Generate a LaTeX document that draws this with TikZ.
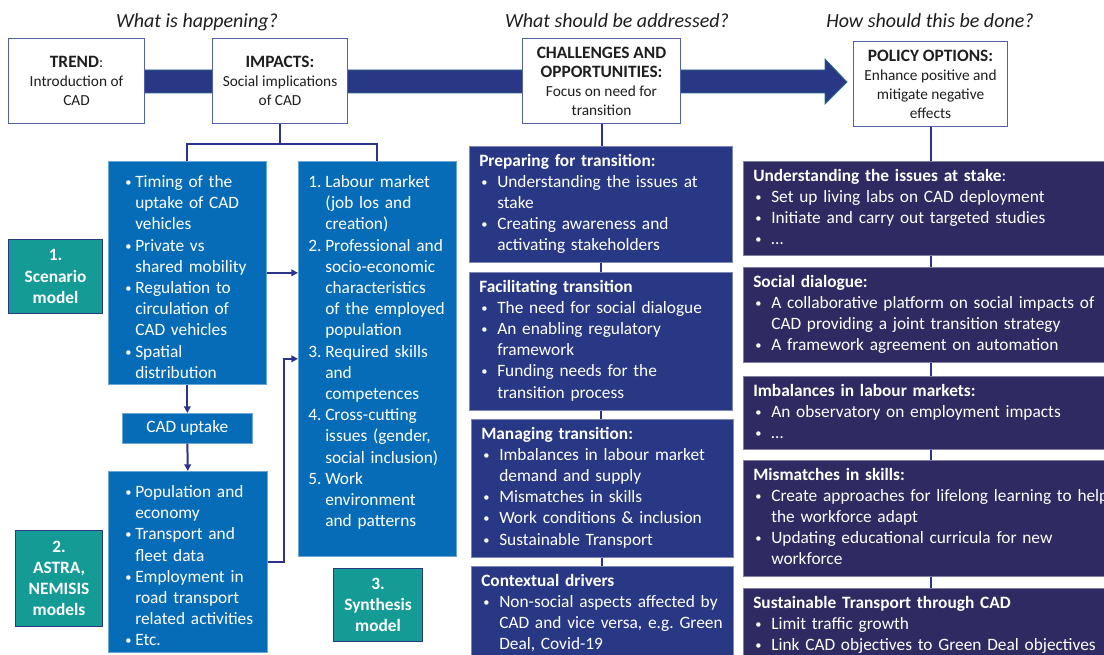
\documentclass[tikz,border=0pt]{standalone}
\usepackage{fontspec}
\usepackage{graphicx}
\setmainfont{Carlito}
\usetikzlibrary{arrows.meta,calc}
\definecolor{navy}{RGB}{41,56,132}
\definecolor{deep}{RGB}{47,42,98}
\definecolor{cblue}{RGB}{6,108,183}
\definecolor{teal2}{RGB}{20,155,150}
\definecolor{hdrline}{RGB}{85,95,170}
\definecolor{conncol}{RGB}{45,50,140}
\definecolor{shaftedge}{RGB}{40,110,140}
\definecolor{txt}{RGB}{30,30,30}
\frenchspacing
\newcommand\bodyfont{\fontsize{13}{15.9}\selectfont}
\newcommand\nl{\hfil\break}
\newcommand\sbul{\raisebox{0.12ex}{\scalebox{0.72}{\textbullet}}}
\newcommand\itm[4]{\par\hangindent=#2\hangafter=1\noindent\makebox[#2][l]{\hspace*{#1}#3}\strut\ignorespaces#4}
\newcommand\bA[1]{\itm{5.25pt}{12.75pt}{\sbul}{#1}}
\newcommand\bM[1]{\itm{1.5pt}{13.5pt}{\sbul}{#1}}
\newcommand\nB[2]{\itm{0pt}{12.75pt}{#1}{#2}}
\newcommand\hbf[1]{{\fontsize{13}{14.2}\selectfont\bfseries #1}}
\newcommand\boxat[7]{\node[#2, anchor=north west, minimum width={(#5-#3)*0.75pt}, minimum height={(#6-#4)*0.75pt}] (#1) at (#3,#4) {#7};}
\newcommand\panel[8]{%
  \node[#2, anchor=north west, inner sep=0pt, minimum width={(#5-#3)*0.75pt}, minimum height={(#6-#4)*0.75pt}] (#1) at (#3,#4) {};
  \node[ptext, anchor=north west, text width={(#5-#3)*0.75pt}] (#1t) at ([shift={(#7,5)}]#1.north west) {#8\par};}
\begin{document}
\begin{tikzpicture}[x=0.75pt,y=-0.75pt,
  hdr/.style={draw=hdrline, line width=0.8pt, fill=white, align=center, inner sep=2pt, text=txt, font=\fontsize{11.5}{14.2}\selectfont},
  ital/.style={font=\itshape\fontsize{15}{18}\selectfont, text=txt, inner sep=0pt},
  blu/.style={fill=cblue, draw=cblue!60!white, line width=0.5pt},
  mid/.style={fill=navy, draw=navy!60!white, line width=0.5pt},
  rgt/.style={fill=deep, draw=deep!60!white, line width=0.5pt},
  model/.style={fill=teal2, draw=navy, line width=0.8pt, text=white, align=center, inner sep=1pt, font=\bfseries\fontsize{13}{15.9}\selectfont},
  cad/.style={fill=cblue, draw=cblue!60!white, line width=0.5pt, text=white, font=\bodyfont},
  ptext/.style={text=white, align=left, font=\bodyfont, inner sep=0pt},
  conn/.style={draw=conncol, line width=1.5pt},
  arr/.style={conn, -{Triangle[length=5pt,width=5pt]}}]
\useasboundingbox (0,0) rectangle (1104,655);
\clip (0,0) rectangle (1104,655);
\fill[white] (0,0) rectangle (1104,655);

% question labels
\node[ital, anchor=base] (q1) at (197,28) {What is happening?};
\node[ital, anchor=base] (q2) at (617,28) {What should be addressed?};
\node[ital, anchor=base] (q3) at (930,28) {How should this be done?};

% big arrow
\filldraw[fill=navy, draw=shaftedge, line width=0.6pt] (140,70) -- (825,70) -- (825,59) -- (847,82) -- (825,104) -- (825,93) -- (140,93) -- cycle;

% header boxes
\boxat{trend}{hdr}{8}{38}{144}{123}{\hbf{TREND}:\\Introduction of\\CAD}
\boxat{impacts}{hdr}{212}{38}{347}{123}{\hbf{IMPACTS:}\\Social implications\\of CAD}
\boxat{challenges}{hdr}{522}{38}{680}{123}{\hbf{CHALLENGES AND}\\\hbf{OPPORTUNITIES:}\\Focus on need for\\transition}
\boxat{policy}{hdr}{853}{41}{1007}{126}{\hbf{POLICY OPTIONS:}\\Enhance positive and\\mitigate negative\\effects}

% left column
\panel{A}{blu}{108}{161}{266}{384}{10}{%
\bA{Timing of the\nl uptake of CAD\nl vehicles}
\bA{Private vs\nl shared mobility}
\bA{Regulation to\nl circulation of\nl CAD vehicles}
\bA{Spatial\nl distribution}}
\panel{B}{blu}{298}{161}{456}{556}{10}{%
\nB{1.}{Labour market\nl (job los and\nl creation)}
\nB{2.}{Professional and\nl socio-economic\nl characteristics\nl of the employed\nl population}
\nB{3.}{Required skills\nl and\nl competences}
\nB{4.}{Cross-cutting\nl issues (gender,\nl social inclusion)}
\nB{5.}{Work\nl environment\nl and patterns}}
\boxat{cadup}{cad}{122}{413}{252}{443}{CAD uptake}
\panel{C}{blu}{108}{471}{267}{652}{10}{%
\bA{Population and\nl economy}
\bA{Transport and\nl fleet data}
\bA{Employment in\nl road transport\nl related activities}
\bA{Etc.}}
\boxat{m1}{model}{8}{239}{102}{313}{1.\\Scenario\\model}
\boxat{m2}{model}{15}{530}{102}{626}{2.\\ASTRA,\\NEMISIS\\models}
\boxat{m3}{model}{333}{568}{422}{641}{3.\\Synthesis\\model}

% middle column
\panel{p1}{mid}{469}{146}{732}{262}{10}{%
\strut\textbf{Preparing for transition:}
\bM{Understanding the issues at\nl stake}
\bM{Creating awareness and\nl activating stakeholders}}
\panel{p2}{mid}{469}{272}{732}{410}{10}{%
\strut\textbf{Facilitating transition}
\bM{The need for social dialogue}
\bM{An enabling regulatory\nl framework}
\bM{Funding needs for the\nl transition process}}
\panel{p3}{mid}{471}{419}{733}{557}{10}{%
\strut\textbf{Managing transition:}
\bM{Imbalances in labour market\nl demand and supply}
\bM{Mismatches in skills}
\bM{Work conditions \& inclusion}
\bM{Sustainable Transport}}
\panel{p4}{mid}{471}{566}{733}{662}{10}{%
\strut\textbf{Contextual drivers}
\bM{Non-social aspects affected by\nl CAD and vice versa, e.g. Green\nl Deal, Covid-19}}

% right column
\panel{r1}{rgt}{743}{161}{1118}{255}{10}{%
\strut\textbf{Understanding the issues at stake}:
\bM{Set up living labs on CAD deployment}
\bM{Initiate and carry out targeted studies}
\bM{\ldots}}
\panel{r2}{rgt}{743}{267}{1118}{362}{10}{%
\strut\textbf{Social dialogue:}
\bM{A collaborative platform on social impacts of\nl CAD providing a joint transition strategy}
\bM{A framework agreement on automation}}
\panel{r3}{rgt}{743}{376}{1118}{449}{10}{%
\strut\textbf{Imbalances in labour markets:}
\bM{An observatory on employment impacts}
\bM{\ldots}}
\panel{r4}{rgt}{743}{460}{1118}{576}{10}{%
\strut\textbf{Mismatches in skills:}
\bM{Create approaches for lifelong learning to help\nl the workforce adapt}
\bM{Updating educational curricula for new\nl workforce}}
\panel{r5}{rgt}{743}{588}{1118}{662}{10}{%
\strut\textbf{Sustainable Transport through CAD}
\bM{Limit traffic growth}
\bM{Link CAD objectives to Green Deal objectives}}

% connectors
\coordinate (j1) at ($(impacts.south)+(0,20)$);
\draw[conn] (impacts.south) -- (j1);
\draw[conn] (A.north) |- (j1) -| (B.north);
\draw[arr] (A.east) -- (A.east -| B.west);
\draw[arr] (A.south) -- (cadup.north);
\draw[arr] (cadup.south) -- (C.north);
\draw[arr] (C.east) -- ++(16,0) |- (B.west);
\draw[conn] (challenges.south) -- (challenges.south |- p1.north);
\draw[conn] (p1.south) -- (p1.south |- p2.north);
\draw[conn] (p2.south) -- (p2.south |- p3.north);
\draw[conn] (p3.south) -- (p3.south |- p4.north);
\draw[conn] (policy.south) -- (policy.south |- r1.north);
\draw[conn] (r1.south -| policy.south) -- (r2.north -| policy.south);
\draw[conn] (r2.south -| policy.south) -- (r3.north -| policy.south);
\draw[conn] (r3.south -| policy.south) -- (r4.north -| policy.south);
\draw[conn] (r4.south -| policy.south) -- (r5.north -| policy.south);
\end{tikzpicture}
\end{document}
